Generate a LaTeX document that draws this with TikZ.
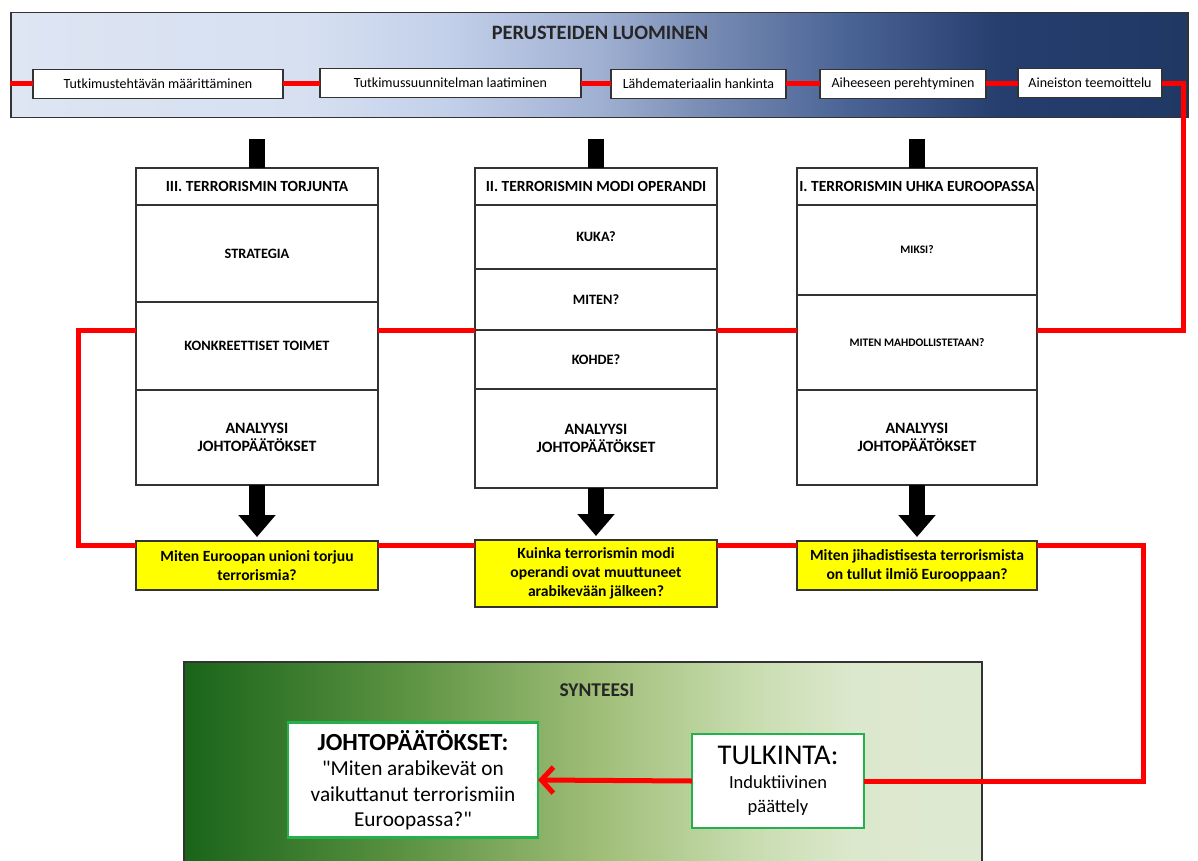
\documentclass[tikz,border=0pt]{standalone}
\usepackage{fontspec}
\setmainfont{Carlito}
\usetikzlibrary{arrows.meta}

\definecolor{bandA}{RGB}{222,229,243}
\definecolor{bandB}{RGB}{214,224,241}
\definecolor{bandC}{RGB}{195,208,234}
\definecolor{bandD}{RGB}{160,176,210}
\definecolor{bandE}{RGB}{120,140,180}
\definecolor{bandF}{RGB}{75,100,150}
\definecolor{bandG}{RGB}{38,62,110}
\definecolor{bandH}{RGB}{31,56,100}
\definecolor{synA}{RGB}{25,100,25}
\definecolor{synB}{RGB}{90,145,65}
\definecolor{synC}{RGB}{160,190,120}
\definecolor{synD}{RGB}{200,220,175}
\definecolor{synE}{RGB}{220,232,205}
\definecolor{synF}{RGB}{222,233,210}
\definecolor{askyellow}{RGB}{255,255,0}
\definecolor{boxgreen}{RGB}{34,177,76}
\definecolor{inkgray}{RGB}{51,51,51}

\pgfdeclarehorizontalshading{bandshade}{100bp}{color(0bp)=(bandA); color(25bp)=(bandA);
  color(37.5bp)=(bandB); color(43.5bp)=(bandC); color(50bp)=(bandD); color(54.5bp)=(bandE);
  color(60.5bp)=(bandF); color(67bp)=(bandG); color(75bp)=(bandH); color(100bp)=(bandH)}
\pgfdeclarehorizontalshading{synshade}{100bp}{color(0bp)=(synA); color(25bp)=(synA);
  color(38.5bp)=(synB); color(51bp)=(synC); color(60.5bp)=(synD); color(67bp)=(synE);
  color(75bp)=(synF); color(100bp)=(synF)}

%% straight double quote, past the tex-text mapping
\newcommand\dquote{\XeTeXglyph\XeTeXcharglyph"0022\relax}

\begin{document}
\begin{tikzpicture}[x=1pt,y=-1pt,
    frame/.style={draw=inkgray,line width=1.5pt},
    stepbox/.style={draw=inkgray,line width=1.5pt,fill=white,minimum height=29pt,
      inner sep=0pt,outer sep=0pt,font=\fontsize{14}{16}\selectfont},
    headbox/.style={draw=inkgray,line width=1.5pt,fill=white,anchor=north west,
      minimum width=242pt,inner sep=0pt,outer sep=0pt,align=center,
      font=\bfseries\fontsize{15.5}{17}\selectfont},
    cellbox/.style={headbox,font=\bfseries\fontsize{14.3}{16}\selectfont},
    tinybox/.style={headbox,font=\bfseries\fontsize{11.5}{13}\selectfont},
    endbox/.style={headbox,font=\bfseries\fontsize{15.8}{18}\selectfont},
    askbox/.style={headbox,fill=askyellow,font=\bfseries\fontsize{15.6}{19}\selectfont},
    greenbox/.style={draw=boxgreen,line width=2.5pt,fill=white,align=center,
      inner sep=0pt,outer sep=0pt},
    redline/.style={draw=red,line width=5pt},
    bar/.style={draw=black,line width=16pt},
    downarrow/.style={draw=black,line width=16pt,shorten >=4pt,
      -{Triangle[width=36pt,length=22pt]}}]
    \useasboundingbox (0,0) rectangle (1198,861);

    %% top band
    \node[frame,shade,shading=bandshade,anchor=north west,minimum width=1177pt,
        minimum height=105pt,inner sep=0pt] (band) at (10,12) {};
    \node[font=\bfseries\fontsize{20.4}{22}\selectfont,text=black!85] (band-title)
        at (600,33) {PERUSTEIDEN LUOMINEN};
    \node[stepbox,minimum width=250pt] (s1) at (158,84) {Tutkimustehtävän määrittäminen};
    \node[stepbox,minimum width=261pt] (s2) at (450.5,83) {Tutkimussuunnitelman laatiminen};
    \node[stepbox,minimum width=175pt] (s3) at (698.5,84) {Lähdemateriaalin hankinta};
    \node[stepbox,minimum width=166pt] (s4) at (903,84) {Aiheeseen perehtyminen};
    \node[stepbox,minimum width=144pt] (s5) at (1090,83) {Aineiston teemoittelu};

    %% column III
    \node[headbox,minimum height=37pt] (torj-head) at (136,168) {III. TERRORISMIN TORJUNTA};
    \node[cellbox,minimum height=97pt] (torj-a) at (136,205) {STRATEGIA};
    \node[cellbox,minimum height=88pt] (torj-b) at (136,302) {KONKREETTISET TOIMET};
    \node[endbox,minimum height=95pt] (torj-end) at (136,390) {ANALYYSI\\JOHTOPÄÄTÖKSET};
    \node[askbox,minimum height=49pt] (torj-ask) at (136,541)
        {Miten Euroopan unioni torjuu\\terrorismia?};

    %% column II
    \node[headbox,minimum height=37pt] (modi-head) at (475,168) {II. TERRORISMIN MODI OPERANDI};
    \node[cellbox,minimum height=64pt] (modi-a) at (475,205) {KUKA?};
    \node[cellbox,minimum height=61pt] (modi-b) at (475,269) {MITEN?};
    \node[cellbox,minimum height=59pt] (modi-c) at (475,330) {KOHDE?};
    \node[endbox,minimum height=99pt] (modi-end) at (475,389) {ANALYYSI\\JOHTOPÄÄTÖKSET};
    \node[askbox,minimum height=67pt] (modi-ask) at (475,540)
        {Kuinka terrorismin modi\\operandi ovat muuttuneet\\arabikevään jälkeen?};

    %% column I
    \node[headbox,minimum width=240pt,minimum height=37pt] (uhka-head) at (797,168)
        {I. TERRORISMIN UHKA EUROOPASSA};
    \node[tinybox,minimum width=240pt,minimum height=90pt] (uhka-a) at (797,205) {MIKSI?};
    \node[tinybox,minimum width=240pt,minimum height=95pt] (uhka-b) at (797,295)
        {MITEN MAHDOLLISTETAAN?};
    \node[endbox,minimum width=240pt,minimum height=95pt] (uhka-end) at (797,390)
        {ANALYYSI\\JOHTOPÄÄTÖKSET};
    \node[askbox,minimum width=240pt,minimum height=49pt] (uhka-ask) at (797,541)
        {Miten jihadistisesta terrorismista\\on tullut ilmiö Eurooppaan?};

    %% bars and arrows
    \coordinate (bartop) at (0,139);
    \draw[bar] (torj-head.north |- bartop) -- (torj-head.north);
    \draw[bar] (modi-head.north |- bartop) -- (modi-head.north);
    \draw[bar] (uhka-head.north |- bartop) -- (uhka-head.north);
    \draw[downarrow] (torj-end.south) -- (torj-ask.north);
    \draw[downarrow] (modi-end.south) -- (modi-ask.north);
    \draw[downarrow] (uhka-end.south) -- (uhka-ask.north);

    %% synthesis
    \node[frame,shade,shading=synshade,anchor=north west,minimum width=798pt,
        minimum height=205pt,inner sep=0pt] (synteesi) at (183,661) {};
    \node[font=\bfseries\fontsize{19.5}{21}\selectfont,text=black!85] (syn-title)
        at (597,690) {SYNTEESI};
    \node[greenbox,minimum width=250pt,minimum height=115pt,
        font=\fontsize{21.3}{25.5}\selectfont] (johto) at (413,780)
        {{\bfseries\fontsize{24.6}{27}\selectfont JOHTOPÄÄTÖKSET:}\\\dquote Miten arabikevät on\\
         vaikuttanut terrorismiin\\Euroopassa?\dquote};
    \node[greenbox,minimum width=172pt,minimum height=94pt,
        font=\fontsize{18.5}{24}\selectfont] (tulkinta) at (778,781)
        {{\fontsize{28.6}{31}\selectfont TULKINTA:}\\Induktiivinen\\päättely};

    %% red line
    \coordinate (turn1) at (1183,330);
    \coordinate (turn2) at (78,545);
    \coordinate (turn3) at (1143,781);
    \draw[redline] (band.west |- s1) -- (s1.west);
    \draw[redline] (s1.east) -- (s2.west |- s1);
    \draw[redline] (s2.east |- s1) -- (s3.west);
    \draw[redline] (s3.east) -- (s4.west);
    \draw[redline] (s4.east) -- (s5.west |- s4);
    \draw[redline] (s5.east |- s4) -| (turn1) -- (uhka-b.east |- turn1);
    \draw[redline] (uhka-b.west |- turn1) -- (modi-b.east |- turn1);
    \draw[redline] (modi-b.west |- turn1) -- (torj-b.east |- turn1);
    \draw[redline] (torj-b.west |- turn1) -| (turn2) -- (torj-ask.west |- turn2);
    \draw[redline] (torj-ask.east |- turn2) -- (modi-ask.west |- turn2);
    \draw[redline] (modi-ask.east |- turn2) -- (uhka-ask.west |- turn2);
    \draw[redline] (uhka-ask.east |- turn2) -| (turn3) -- (tulkinta.east);
    \draw[redline,-{Straight Barb[length=12pt,width=26pt]}] (tulkinta.west) -- (johto.east);
\end{tikzpicture}
\end{document}
